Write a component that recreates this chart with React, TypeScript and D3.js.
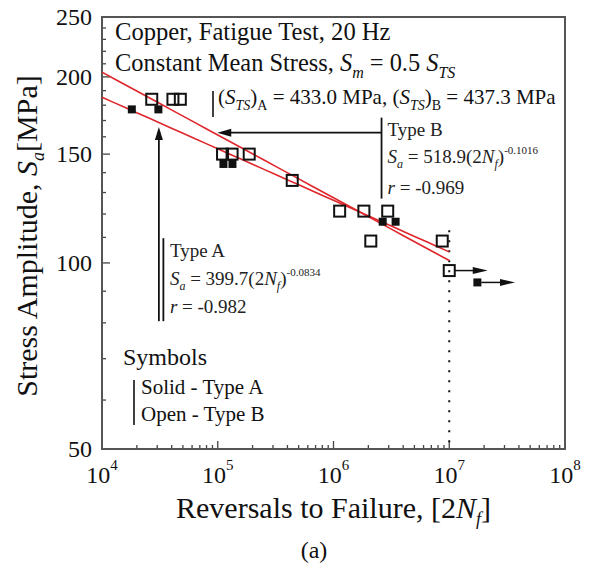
import React from "react";
import * as d3 from "d3";

// Type B specimens (open squares): reversals 2Nf and stress amplitude [MPa]
const openReversals = [2.69e4, 4.1e4, 4.75e4, 1.1e5, 1.33e5, 1.87e5, 4.4e5, 1.13e6, 1.83e6, 2.94e6, 2.1e6, 8.7e6];
const openStress = [184, 184, 184, 150, 150, 150, 136, 121.3, 121.3, 121.3, 108.5, 108.5];

// Type A specimens (solid squares)
const solidReversals = [1.81e4, 3.07e4, 1.12e5, 1.34e5, 2.66e6, 3.44e6];
const solidStress = [177.2, 177.2, 144.6, 144.6, 116.6, 116.6];

// run-outs (no failure), drawn with an arrow
const runoutReversals = [1.0e7, 1.75e7];
const runoutStress = [97.2, 93.0];
const runoutSolid = [false, true];
const runoutArrowTo = [2.15e7, 3.7e7];

// Basquin fits, Sa = coef * (2Nf)^exp
const fitA = { coef: 399.7, exp: -0.0834 };
const fitB = { coef: 518.9, exp: -0.1016 };
const fitRange = [1e4, 1e7];

const yTickValues = [50, 100, 150, 200, 250];
const yMinorValues = [60, 70, 80, 90, 110, 120, 130, 140, 160, 170, 180, 190, 210, 220, 230, 240];
const xDecades = [4, 5, 6, 7, 8];

const W = 592;
const H = 568;
const margin = { top: 17, right: 27, bottom: 119, left: 102 };
const serif = "'Liberation Serif', 'Times New Roman', serif";

const x = d3.scaleLog().domain([1e4, 1e8]).range([margin.left, W - margin.right]);
const y = d3.scaleLog().domain([50, 250]).range([H - margin.bottom, margin.top]);

const fitLine = (fit) => {
	const pts = d3.range(0, 31).map((i) => {
		const n = fitRange[0] * Math.pow(fitRange[1] / fitRange[0], i / 30);
		return [n, fit.coef * Math.pow(n, fit.exp)];
	});
	return d3
		.line()
		.x((d) => x(d[0]))
		.y((d) => y(d[1]))(pts);
};

const App = () => {
	const x0 = margin.left;
	const x1 = W - margin.right;
	const y0 = H - margin.bottom;
	const y1 = margin.top;

	const xMinor = [];
	for (let e = 4; e < 8; e++) for (let m = 2; m <= 9; m++) xMinor.push(m * Math.pow(10, e));

	// annotation arrows, in data units
	const arrowA = { at: 3.1e4, from: 80.5, to: 166 };
	const arrowB = { at: 162.5, from: 2.6e6, to: 9.9e4 };
	const ax = x(arrowA.at);
	const aTop = y(arrowA.to);
	const aBot = y(arrowA.from);
	const by = y(arrowB.at);
	const bRight = x(arrowB.from);
	const bLeft = x(arrowB.to);

	return (
		<svg
			width={W}
			height={H}
			style={{ position: "absolute", left: 0, top: 0, background: "#fff" }}
			fontFamily={serif}
		>
			{/* ticks */}
			{yMinorValues.map((v) => (
				<line key={"ym" + v} x1={x0} x2={x0 + 4} y1={y(v)} y2={y(v)} stroke="#444" strokeWidth={1.3} />
			))}
			{yTickValues.map((v) => (
				<g key={"y" + v}>
					<line x1={x0} x2={x0 + 8} y1={y(v)} y2={y(v)} stroke="#444" strokeWidth={1.3} />
					<text x={x0 - 10} y={y(v) + 8} textAnchor="end" fontSize={24} fill="#111">
						{v}
					</text>
				</g>
			))}
			{xMinor.map((v) => (
				<line key={"xm" + v} x1={x(v)} x2={x(v)} y1={y0} y2={y0 - 4} stroke="#444" strokeWidth={1.3} />
			))}
			{xDecades.map((e) => (
				<g key={"x" + e}>
					<line x1={x(Math.pow(10, e))} x2={x(Math.pow(10, e))} y1={y0} y2={y0 - 8} stroke="#444" strokeWidth={1.3} />
					<text x={x(Math.pow(10, e))} y={y0 + 34} textAnchor="middle" fontSize={24} fill="#111">
						10
						<tspan dy={-13} fontSize={15}>
							{e}
						</tspan>
					</text>
				</g>
			))}

			{/* frame */}
			<rect x={x0} y={y1} width={x1 - x0} height={y0 - y1} fill="none" stroke="#555" strokeWidth={2} />

			{/* 10^7 limit */}
			<line
				x1={x(1e7)}
				x2={x(1e7)}
				y1={y(113)}
				y2={y0}
				stroke="#111"
				strokeWidth={2}
				strokeDasharray="2 8"
			/>

			{/* fits */}
			<path d={fitLine(fitB)} fill="none" stroke="#e0262b" strokeWidth={1.6} />
			<path d={fitLine(fitA)} fill="none" stroke="#e0262b" strokeWidth={1.6} />

			{/* points */}
			{openReversals.map((n, i) => (
				<rect
					key={"o" + i}
					x={x(n) - 5.5}
					y={y(openStress[i]) - 5.5}
					width={11}
					height={11}
					fill="none"
					stroke="#111"
					strokeWidth={2}
				/>
			))}
			{solidReversals.map((n, i) => (
				<rect key={"s" + i} x={x(n) - 4} y={y(solidStress[i]) - 4} width={8} height={8} fill="#111" />
			))}
			{runoutReversals.map((n, i) => {
				const px = x(n);
				const py = y(runoutStress[i]);
				const tip = x(runoutArrowTo[i]);
				const half = runoutSolid[i] ? 4 : 5.5;
				return (
					<g key={"r" + i}>
						{runoutSolid[i] ? (
							<rect x={px - 4} y={py - 4} width={8} height={8} fill="#111" />
						) : (
							<rect x={px - 5.5} y={py - 5.5} width={11} height={11} fill="none" stroke="#111" strokeWidth={2} />
						)}
						<line x1={px + half} x2={tip - 12} y1={py} y2={py} stroke="#111" strokeWidth={1.5} />
						<path d={`M${tip},${py} L${tip - 15},${py - 3.5} L${tip - 15},${py + 3.5} Z`} fill="#111" />
					</g>
				);
			})}

			{/* Type A arrow and bracket */}
			<line x1={ax} x2={ax} y1={aBot} y2={aTop + 10} stroke="#111" strokeWidth={1.8} />
			<path d={`M${ax},${aTop} L${ax - 4},${aTop + 13} L${ax + 4},${aTop + 13} Z`} fill="#111" />
			<line x1={ax + 4.5} x2={ax + 4.5} y1={aBot - 83} y2={aBot} stroke="#111" strokeWidth={1.8} />
			<g fontSize={19} fill="#222">
				<text x={ax + 11} y={aBot - 64}>
					Type A
				</text>
				<text x={ax + 11} y={aBot - 36}>
					<tspan fontStyle="italic">S</tspan>
					<tspan dy={5} fontSize={12} fontStyle="italic">
						a
					</tspan>
					<tspan dy={-5}> = 399.7(2</tspan>
					<tspan fontStyle="italic">N</tspan>
					<tspan dy={5} fontSize={12} fontStyle="italic">
						f
					</tspan>
					<tspan dy={-5}>)</tspan>
					<tspan dy={-9} fontSize={11}>
						-0.0834
					</tspan>
				</text>
				<text x={ax + 11} y={aBot - 8}>
					<tspan fontStyle="italic">r</tspan> = -0.982
				</text>
			</g>

			{/* Type B arrow and bracket */}
			<line x1={bRight} x2={bLeft + 10} y1={by} y2={by} stroke="#111" strokeWidth={1.8} />
			<path d={`M${bLeft},${by} L${bLeft + 14},${by - 4} L${bLeft + 14},${by + 4} Z`} fill="#111" />
			<line x1={bRight} x2={bRight} y1={by - 15} y2={by + 66} stroke="#111" strokeWidth={1.8} />
			<g fontSize={19} fill="#222">
				<text x={bRight + 6} y={by + 3}>
					Type B
				</text>
				<text x={bRight + 6} y={by + 30}>
					<tspan fontStyle="italic">S</tspan>
					<tspan dy={5} fontSize={12} fontStyle="italic">
						a
					</tspan>
					<tspan dy={-5}> = 518.9(2</tspan>
					<tspan fontStyle="italic">N</tspan>
					<tspan dy={5} fontSize={12} fontStyle="italic">
						f
					</tspan>
					<tspan dy={-5}>)</tspan>
					<tspan dy={-9} fontSize={11}>
						-0.1016
					</tspan>
				</text>
				<text x={bRight + 6} y={by + 61}>
					<tspan fontStyle="italic">r</tspan> = -0.969
				</text>
			</g>

			{/* header text */}
			<g fill="#111">
				<text x={115} y={40} fontSize={24.6}>
					Copper, Fatigue Test, 20 Hz
				</text>
				<text x={115} y={71} fontSize={24.4}>
					Constant Mean Stress, <tspan fontStyle="italic">S</tspan>
					<tspan dy={7} fontSize={16} fontStyle="italic">
						m
					</tspan>
					<tspan dy={-7}> = 0.5 </tspan>
					<tspan fontStyle="italic">S</tspan>
					<tspan dy={7} fontSize={16} fontStyle="italic">
						TS
					</tspan>
				</text>
				<line x1={213} x2={213} y1={91} y2={117} stroke="#111" strokeWidth={1.6} />
				<text x={218} y={104} fontSize={21}>
					(<tspan fontStyle="italic">S</tspan>
					<tspan dy={6} fontSize={14} fontStyle="italic">
						TS
					</tspan>
					<tspan dy={-6}>)</tspan>
					<tspan dy={6} fontSize={14}>
						A
					</tspan>
					<tspan dy={-6}> = 433.0 MPa, (</tspan>
					<tspan fontStyle="italic">S</tspan>
					<tspan dy={6} fontSize={14} fontStyle="italic">
						TS
					</tspan>
					<tspan dy={-6}>)</tspan>
					<tspan dy={6} fontSize={14}>
						B
					</tspan>
					<tspan dy={-6}> = 437.3 MPa</tspan>
				</text>
			</g>

			{/* symbols key */}
			<g fill="#111">
				<text x={123} y={365} fontSize={24}>
					Symbols
				</text>
				<line x1={134} x2={134} y1={380} y2={425} stroke="#111" strokeWidth={1.6} />
				<text x={141} y={394} fontSize={21}>
					Solid - Type A
				</text>
				<text x={141} y={421} fontSize={21}>
					Open - Type B
				</text>
			</g>

			{/* axis titles */}
			<text x={(x0 + x1) / 2} y={518} textAnchor="middle" fontSize={30} fill="#111">
				Reversals to Failure, [2<tspan fontStyle="italic">N</tspan>
				<tspan dy={7} fontSize={18} fontStyle="italic">
					f
				</tspan>
				<tspan dy={-7}>]</tspan>
			</text>
			<text transform={`translate(37,${(y0 + y1) / 2 + 3}) rotate(-90)`} textAnchor="middle" fontSize={30} fill="#111">
				Stress Amplitude, <tspan fontStyle="italic">S</tspan>
				<tspan dy={7} fontSize={18} fontStyle="italic">
					a
				</tspan>
				<tspan dy={-7}>[MPa]</tspan>
			</text>
			<text x={314} y={558} textAnchor="middle" fontSize={24} fill="#111">
				(a)
			</text>
		</svg>
	);
};

export default App;
